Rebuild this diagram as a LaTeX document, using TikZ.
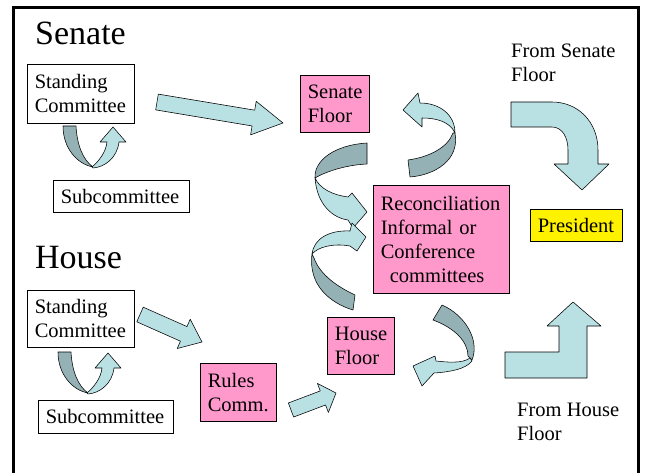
\documentclass[tikz,border=0pt]{standalone}
\usepackage{fontspec}
\setmainfont{Liberation Serif}
\usetikzlibrary{calc}

\definecolor{ribbonlight}{RGB}{185,224,227}
\definecolor{ribbondark}{RGB}{148,178,181}
\definecolor{floorpink}{RGB}{255,153,204}

% straight block arrow: tail, tip, shaft half width, head half width, head length
\newcommand{\flatarrow}[5]{%
  \coordinate (fa-root) at ($(#2)!#5!(#1)$);
  \draw[blockarrow]
    ($(#1)!#3!90:(#2)$) -- ($(fa-root)!#3!90:(#2)$) -- ($(fa-root)!#4!90:(#2)$) --
    (#2) -- ($(fa-root)!#4!-90:(#2)$) -- ($(fa-root)!#3!-90:(#2)$) --
    ($(#1)!#3!-90:(#2)$) -- cycle;
}

\begin{document}
\begin{tikzpicture}[
  x=1pt, y=1pt,
  font=\fontsize{20.5}{24}\selectfont,
  box/.style={
    draw=black,
    line width=0.6pt,
    anchor=north west,
    align=left,
    inner xsep=7.5pt,
    inner ysep=0pt,
    fill=white
  },
  floor/.style={box, fill=floorpink},
  chief/.style={box, fill=yellow},
  chamber/.style={font=\fontsize{34}{40}\selectfont, anchor=base west, inner sep=0pt},
  note/.style={anchor=north west, align=left, inner sep=0pt},
  blockarrow/.style={draw=black, line width=0.55pt, fill=ribbonlight, line join=round},
  ribbonback/.style={blockarrow, fill=ribbondark},
  uturn/.pic={
    \draw[ribbonback] (0,0) -- (13,0) .. controls (14,-19) and (20,-34) .. (30,-41)
      .. controls (14,-38) and (0,-22) .. (0,0) -- cycle;
    \draw[blockarrow] (29,-41) .. controls (36,-35) and (43,-26) .. (44,-16) -- (37,-16)
      -- (50,-1) -- (63,-16) -- (56,-16) .. controls (54,-32) and (42,-41) .. (30,-42) -- cycle;
  }
]
\useasboundingbox (0,0) rectangle (645,-473);

% slide frame, open at the bottom
\draw[line width=3pt] (13.5,-473) -- (13.5,-8) -- (638.5,-8) -- (638.5,-473);

% Senate side
\node[chamber] (senate) at (35,-45) {Senate};
\node[box, text width=92pt, minimum height=59pt] (sen-sc) at (27,-64) {Standing\\Committee};
\node[box, text width=121pt, minimum height=32pt] (sen-sub) at (53,-180) {Subcommittee};
\node[floor, text width=54pt, minimum height=57pt] (sen-floor) at (300,-75) {Senate\\Floor};
\pic at (63,-126) {uturn};

% House side
\node[chamber] (house) at (35,-268) {House};
\node[box, text width=92pt, minimum height=57pt] (hou-sc) at (27,-290) {Standing\\Committee};
\node[box, text width=120pt, minimum height=33pt] (hou-sub) at (38,-400) {Subcommittee};
\node[floor, text width=61pt, minimum height=58pt] (rules) at (200,-363) {Rules\\Comm.};
\node[floor, text width=52pt, minimum height=57pt] (hou-floor) at (327,-317) {House\\Floor};
\pic at (58,-352) {uturn};

% Reconciliation and President
\node[floor, text width=121pt, minimum height=108pt] (recon) at (373,-185)
  {Reconciliation\\Informal or\\Conference\\\hspace*{9pt}committees};
\node[chief, text width=77pt, minimum height=32pt] (president) at (530,-209) {President};
\node[note] (from-senate) at (511,-44) {From Senate\\Floor};
\node[note] (from-house) at (517,-403) {From House\\Floor};

% straight block arrows
\coordinate (sen-out) at (157,-102);
\coordinate (sen-in) at (283,-123);
\flatarrow{sen-out}{sen-in}{8pt}{17pt}{30pt}
\coordinate (hou-out) at (140,-314.5);
\coordinate (rules-in) at (202,-342);
\flatarrow{hou-out}{rules-in}{8pt}{16pt}{20pt}
\coordinate (rules-out) at (291,-410);
\coordinate (hfloor-in) at (336,-393);
\flatarrow{rules-out}{hfloor-in}{7.5pt}{15.5pt}{14pt}

% curved ribbons round the conference box
\draw[ribbonback] (367,-143) .. controls (335,-145) and (314,-160) .. (315,-178)
  .. controls (325,-172) and (345,-165) .. (367,-164) -- cycle;
\draw[blockarrow] (315,-178) .. controls (317,-205) and (333,-218) .. (348,-220)
  -- (353,-228) -- (367,-212) -- (352,-193) -- (348,-197)
  .. controls (333,-195) and (320,-189) .. (315,-178) -- cycle;

\draw[blockarrow] (312,-254) .. controls (314,-238) and (330,-230) .. (350,-231)
  -- (352,-223) -- (366,-237) -- (357,-251) -- (350,-246)
  .. controls (333,-243) and (318,-247) .. (312,-254) -- cycle;
\draw[ribbonback] (312,-254) .. controls (308,-285) and (330,-303) .. (353,-310)
  -- (355,-295) .. controls (338,-287) and (320,-275) .. (314,-258) -- cycle;

\draw[blockarrow] (403,-110) -- (418,-93) -- (420,-103)
  .. controls (440,-103) and (455,-115) .. (455,-133)
  .. controls (450,-122) and (437,-118) .. (422,-118) -- (422,-127) -- cycle;
\draw[ribbonback] (455,-133) .. controls (460,-160) and (435,-175) .. (410,-177)
  -- (408,-160) .. controls (430,-157) and (448,-147) .. (453,-133) -- cycle;

\draw[ribbonback] (442,-305) .. controls (465,-315) and (480,-340) .. (472,-360)
  -- (468,-356) .. controls (468,-342) and (455,-328) .. (433,-320) -- cycle;
\draw[blockarrow] (470,-358) .. controls (462,-364) and (446,-362) .. (436,-361)
  -- (435,-356) -- (413,-366) -- (422,-386) -- (434,-373)
  .. controls (450,-372) and (466,-369) .. (472,-361) -- cycle;

% bent arrows into the President box
\draw[blockarrow] (511,-102) -- (552,-102) .. controls (578,-102) and (598,-122) .. (598,-150)
  -- (598,-164) -- (609,-164) -- (582,-190) -- (554,-164) -- (568,-164) -- (568,-150)
  .. controls (568,-137) and (562,-127) .. (552,-127) -- (511,-127) -- cycle;
\draw[blockarrow] (505,-352) -- (559,-352) -- (559,-326) -- (547,-326) -- (573,-302)
  -- (601,-326) -- (587,-326) -- (587,-378) -- (505,-378) -- cycle;

\end{tikzpicture}
\end{document}
